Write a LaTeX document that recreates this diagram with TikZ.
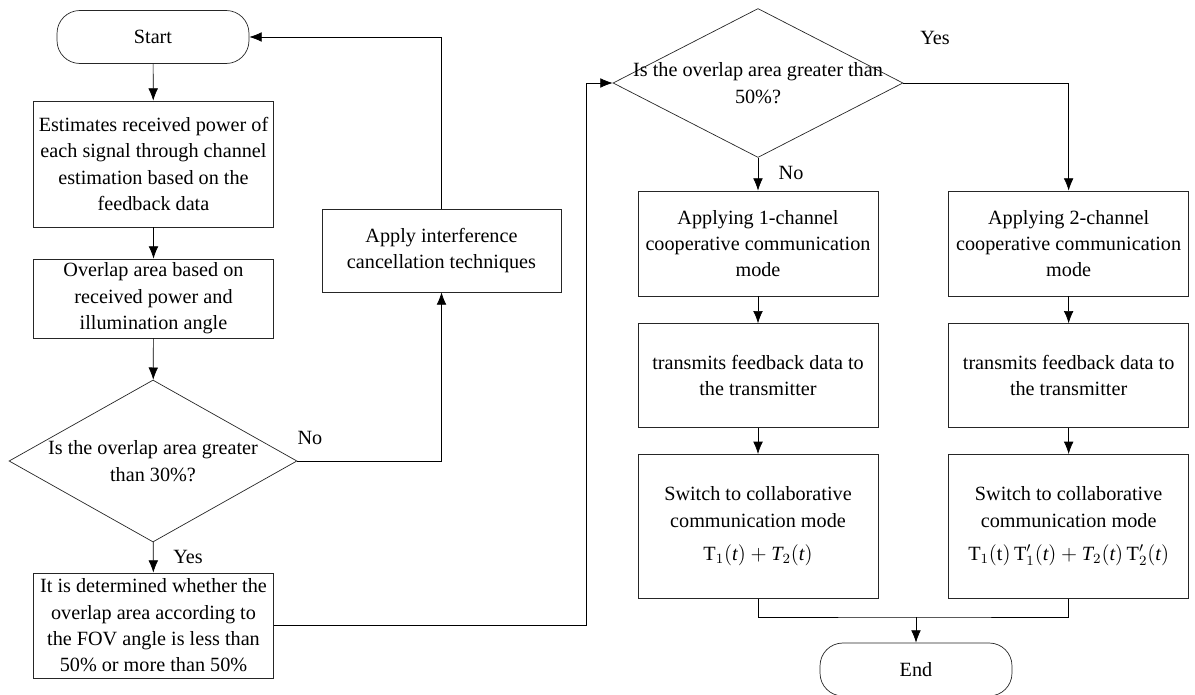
\documentclass[tikz,border=0pt]{standalone}
\usepackage{fontspec}
\setmainfont{Liberation Serif}
\usetikzlibrary{shapes.geometric, arrows.meta, positioning}
\tikzset {
    ->,
    >={Latex[length=7pt, width=5.5pt]},
    line width=0.6pt,
    draw=black!85,
    every node/.style={font=\fontsize{11.5}{15}\selectfont},
    process/.style={draw=black!85, rectangle, align=center, minimum width=4.8cm, inner sep=2pt},
    terminal/.style={draw=black!85, rectangle, rounded corners=13pt, minimum width=3.84cm, minimum height=1.06cm},
    decision/.style={draw=black!85, diamond, inner sep=0pt}
}

\begin{document}
\begin{tikzpicture}[x=0.02cm, y=-0.02cm]
                    \useasboundingbox (0,0) rectangle (1195,695);

                    % left column
                    \node[terminal] (start) at (153,37) {Start};
                    \node[process, minimum height=2.52cm] (est) at (153.5,164) {Estimates received power of\\each signal through channel\\estimation based on the\\feedback data};
                    \node[process, minimum height=1.58cm] (ovl) at (153.5,298.5) {Overlap area based on\\received power and\\illumination angle};
                    \node[decision, minimum width=5.76cm, minimum height=3.24cm,
                          label={[align=center]center:Is the overlap area greater\\than 30\%?}] (d1) at (153,461) {};
                    \node[process, minimum height=2.1cm] (fov) at (153.5,625.5) {It is determined whether the\\overlap area according to\\the FOV angle is less than\\50\% or more than 50\%};
                    \node[process, minimum width=4.78cm, minimum height=1.66cm] (apply) at (441.5,250.5) {Apply interference\\cancellation techniques};

                    % right part
                    \node[decision, minimum width=5.8cm, minimum height=2.98cm,
                          label={[align=center]center:Is the overlap area greater than\\50\%?}] (d2) at (758,83) {};
                    \node[process, minimum height=2.1cm] (a1) at (758,243.5) {Applying 1-channel\\cooperative communication\\mode};
                    \node[process, minimum height=2.1cm, right=1.4cm of a1] (a2) {Applying 2-channel\\cooperative communication\\mode};
                    \node[process, minimum height=2.08cm, below=0.54cm of a1] (t1) {transmits feedback data to\\the transmitter};
                    \node[process, minimum height=2.08cm, below=0.54cm of a2] (t2) {transmits feedback data to\\the transmitter};
                    \node[process, minimum height=2.88cm, below=0.52cm of t1] (s1) {Switch to collaborative\\communication mode\\[4pt]$\mathrm{T}_1(\mathit{t})+\mathit{T}_2(\mathit{t})$};
                    \node[process, minimum height=2.88cm, below=0.52cm of t2] (s2) {Switch to collaborative\\communication mode\\[4pt]$\mathrm{T}_1(\mathrm{t})\,\mathrm{T}'_1(\mathit{t})+\mathit{T}_2(\mathit{t})\,\mathrm{T}'_2(\mathit{t})$};
                    \node[terminal] (end) at (916,669.5) {End};

                    \node (no1) at (310,438) {No};
                    \node (yes1) at (188,557) {Yes};
                    \node (no2) at (791,173) {No};
                    \node (yes2) at (935,38) {Yes};

                    \coordinate (turn) at (586,83);
                    \coordinate (mrg) at (916,617);

                    \draw (start) -- (est);
                    \draw (est) -- (ovl);
                    \draw (ovl) -- (d1);
                    \draw (d1) -- (fov);
                    \draw (d1.east) -| (apply.south);
                    \draw (apply.north) |- (start.east);
                    \draw (fov.east) -| (turn) -- (d2.west);
                    \draw (d2.south) -- (a1);
                    \draw (d2.east) -| (a2.north);
                    \draw (a1) -- (t1);
                    \draw (t1) -- (s1);
                    \draw (a2) -- (t2);
                    \draw (t2) -- (s2);
                    \draw[-] (s1.south) |- (mrg) -| (s2.south);
                    \draw (mrg) -- (end);
\end{tikzpicture}
\end{document}
